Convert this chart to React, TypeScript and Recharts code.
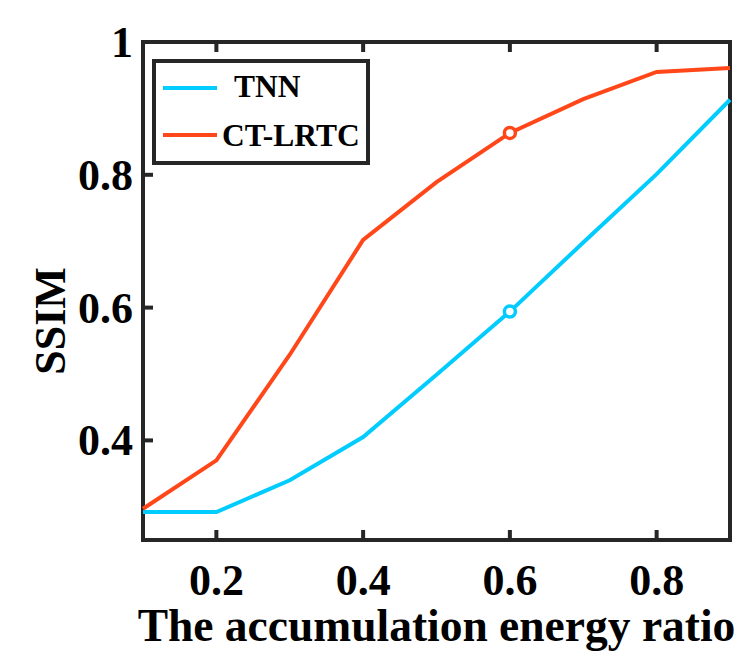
import React from 'react';
import { LineChart, Line, XAxis, YAxis, Legend, ReferenceArea } from 'recharts';

const ratios = [0.1, 0.2, 0.3, 0.4, 0.5, 0.6, 0.7, 0.8, 0.9];
const tnn = [0.292, 0.292, 0.34, 0.405, 0.499, 0.594, 0.698, 0.801, 0.913];
const ctlrtc = [0.297, 0.37, 0.529, 0.702, 0.789, 0.863, 0.914, 0.955, 0.961];
const xTicks = [0.2, 0.4, 0.6, 0.8];
const yTicks = [0.4, 0.6, 0.8, 1];
const xDomain = [0.1, 0.9];
const yDomain = [0.25, 1];
const markAt = 0.6;

const SERIES = [
  { key: 'tnn', label: 'TNN', color: '#00CCFF' },
  { key: 'ctlrtc', label: 'CT-LRTC', color: '#FF4719' },
];

const data = ratios.map((r, i) => ({ r, tnn: tnn[i], ctlrtc: ctlrtc[i] }));

const FONT = '"Liberation Serif", "Times New Roman", serif';
const AXIS = '#262626';

// matlab-style ticks: marks point inward, labels outside
function BottomTick(props: any) {
  const { x, y, payload } = props;
  return (
    <g>
      <line x1={x} x2={x} y1={y} y2={y - 10} stroke={AXIS} strokeWidth={4} />
      <text x={x} y={y + 55} textAnchor="middle" fontFamily={FONT} fontWeight="bold" fontSize={44} fill="#000">
        {payload.value}
      </text>
    </g>
  );
}

function LeftTick(props: any) {
  const { x, y, payload } = props;
  return (
    <g>
      <line x1={x} x2={x + 10} y1={y} y2={y} stroke={AXIS} strokeWidth={4} />
      <text x={x - 10} y={y + 15} textAnchor="end" fontFamily={FONT} fontWeight="bold" fontSize={44} fill="#000">
        {payload.value}
      </text>
    </g>
  );
}

function TopTick(props: any) {
  const { x, y } = props;
  return <line x1={x} x2={x} y1={y} y2={y + 10} stroke={AXIS} strokeWidth={4} />;
}

function RightTick(props: any) {
  const { x, y } = props;
  return <line x1={x} x2={x - 10} y1={y} y2={y} stroke={AXIS} strokeWidth={4} />;
}

function makeDot(color: string) {
  return (props: any) => {
    const { cx, cy, payload, index } = props;
    if (payload.r !== markAt) return <g key={index} />;
    return <circle key={index} cx={cx} cy={cy} r={5.5} fill="#fff" stroke={color} strokeWidth={3.5} />;
  };
}

function LegendBox() {
  return (
    <svg width={218} height={106} style={{ display: 'block' }}>
      <rect x={2} y={2} width={214} height={102} fill="#fff" stroke={AXIS} strokeWidth={4} />
      <line x1={11} x2={65} y1={29} y2={29} stroke={SERIES[0].color} strokeWidth={4} />
      <text x={82} y={38} fontFamily={FONT} fontWeight="bold" fontSize={31.5} fill="#000">{SERIES[0].label}</text>
      <line x1={11} x2={65} y1={76} y2={76} stroke={SERIES[1].color} strokeWidth={4} />
      <text x={70} y={87} fontFamily={FONT} fontWeight="bold" fontSize={31.5} fill="#000">{SERIES[1].label}</text>
    </svg>
  );
}

export default function App() {
  return (
    <div style={{ position: 'absolute', left: 0, top: 0, width: 740, height: 652, background: '#fff' }}>
      <LineChart width={740} height={652} data={data} margin={{ top: 41, right: 9, bottom: 111, left: 142 }}>
        <XAxis
          xAxisId="b"
          dataKey="r"
          type="number"
          domain={xDomain}
          ticks={xTicks}
          height={1}
          tickSize={0}
          tickMargin={0}
          tick={<BottomTick />}
          tickLine={false}
          axisLine={false}
          label={{
            content: (p: any) => (
              <text
                x={p.viewBox.x + p.viewBox.width / 2}
                y={p.viewBox.y + 101}
                textAnchor="middle"
                fontFamily={FONT}
                fontWeight="bold"
                fontSize={45.5}
                fill="#000"
              >
                The accumulation energy ratio
              </text>
            ),
          }}
        />
        <XAxis
          xAxisId="t"
          orientation="top"
          dataKey="r"
          type="number"
          domain={xDomain}
          ticks={xTicks}
          height={1}
          tickSize={0}
          tickMargin={0}
          tick={<TopTick />}
          tickLine={false}
          axisLine={false}
        />
        <YAxis
          yAxisId="l"
          type="number"
          domain={yDomain}
          ticks={yTicks}
          width={1}
          tickSize={0}
          tickMargin={0}
          tick={<LeftTick />}
          tickLine={false}
          axisLine={false}
          label={{
            content: (p: any) => {
              const cy = p.viewBox.y + p.viewBox.height / 2 + 30;
              return (
                <text
                  x={50}
                  y={cy}
                  transform={`rotate(-90, 50, ${cy})`}
                  textAnchor="middle"
                  dominantBaseline="central"
                  fontFamily={FONT}
                  fontWeight="bold"
                  fontSize={44}
                  fill="#000"
                >
                  SSIM
                </text>
              );
            },
          }}
        />
        <YAxis
          yAxisId="r"
          orientation="right"
          type="number"
          domain={yDomain}
          ticks={yTicks}
          width={1}
          tickSize={0}
          tickMargin={0}
          tick={<RightTick />}
          tickLine={false}
          axisLine={false}
        />
        <ReferenceArea
          xAxisId="b"
          yAxisId="l"
          x1={xDomain[0]}
          x2={xDomain[1]}
          y1={yDomain[0]}
          y2={yDomain[1]}
          fill="none"
          stroke={AXIS}
          strokeWidth={4}
        />
        <Legend
          layout="vertical"
          align="center"
          verticalAlign="middle"
          content={() => <LegendBox />}
          wrapperStyle={{ position: 'absolute', left: 152, top: 59, width: 218, height: 106 }}
        />
        {SERIES.map((s) => (
          <Line
            key={s.key}
            xAxisId="b"
            yAxisId="l"
            type="linear"
            dataKey={s.key}
            name={s.label}
            stroke={s.color}
            strokeWidth={4}
            dot={makeDot(s.color)}
            activeDot={false}
            isAnimationActive={false}
          />
        ))}
      </LineChart>
    </div>
  );
}
